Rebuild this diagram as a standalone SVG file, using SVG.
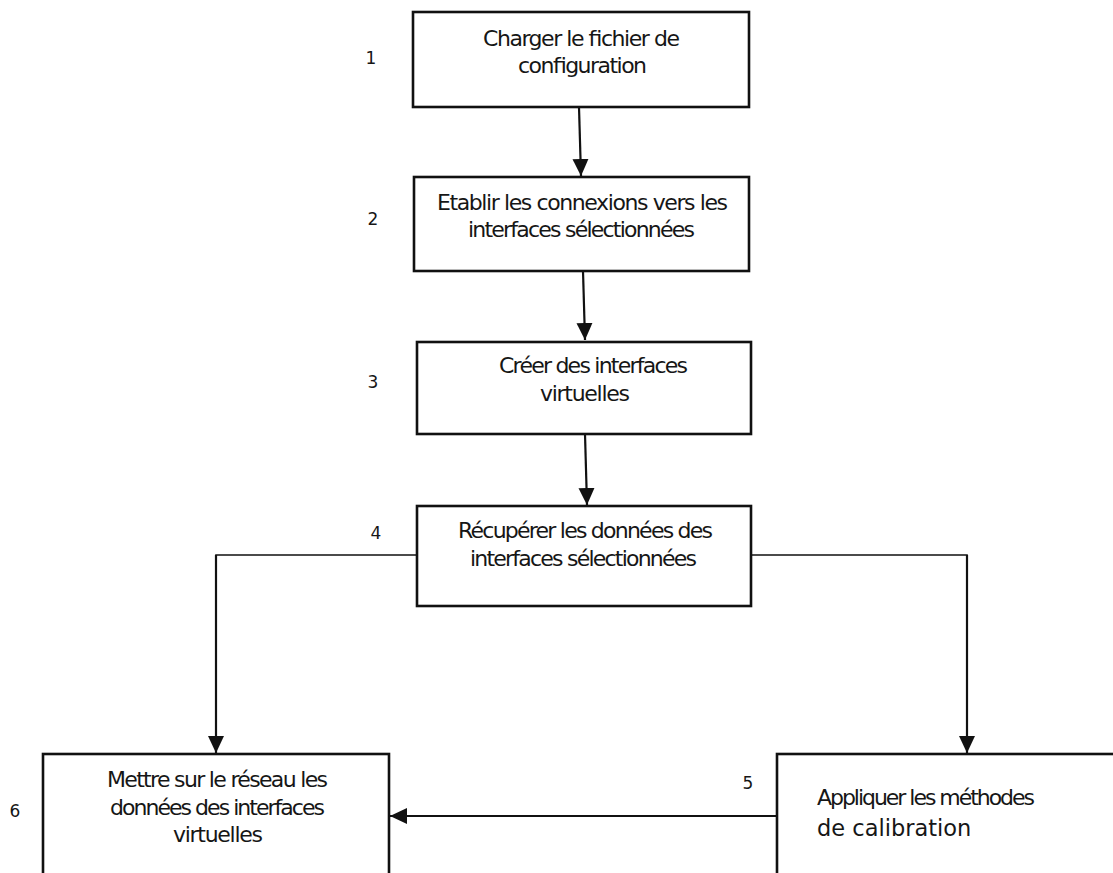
<svg xmlns="http://www.w3.org/2000/svg" width="1113" height="873" viewBox="0 0 1113 873">
<style>
.box{fill:#fff;stroke:#111;stroke-width:2.6}
.t{font-family:"DejaVu Sans","Liberation Sans",sans-serif;font-size:22px;fill:#161616;text-anchor:middle}
.tl{font-family:"DejaVu Sans","Liberation Sans",sans-serif;font-size:22px;fill:#161616;text-anchor:start}
.num{font-family:"DejaVu Sans","Liberation Sans",sans-serif;font-size:17px;fill:#161616;text-anchor:middle}
.arr{fill:none;stroke:#111;stroke-width:2.2}
.thin{fill:none;stroke:#111;stroke-width:1.6}
</style>
<defs>
<marker id="ah" markerUnits="userSpaceOnUse" markerWidth="18" markerHeight="18" refX="17" refY="8" orient="auto">
<path d="M0,0 L17,8 L0,16 z" fill="#111"/>
</marker>
</defs>
<rect width="1113" height="873" fill="#fff"/>
<g id="connectors">
<line class="arr" x1="579" y1="107" x2="581" y2="176" marker-end="url(#ah)"/>
<line class="arr" x1="583" y1="271" x2="585" y2="340" marker-end="url(#ah)"/>
<line class="arr" x1="585" y1="434" x2="587" y2="505" marker-end="url(#ah)"/>
<polyline class="thin" points="417,555 216,555 216,600"/>
<line class="arr" x1="216" y1="555" x2="216" y2="753" marker-end="url(#ah)"/>
<polyline class="thin" points="751,555 967,555 967,600"/>
<line class="arr" x1="967" y1="555" x2="967" y2="753" marker-end="url(#ah)"/>
<line class="arr" x1="777" y1="816" x2="390" y2="816" marker-end="url(#ah)"/>
</g>
<g id="node1">
<rect class="box" x="413" y="12" width="336" height="95"/>
<text class="t" x="581.5" y="46" textLength="197" lengthAdjust="spacing">Charger le fichier de</text>
<text class="t" x="582.5" y="73" textLength="129" lengthAdjust="spacing">configuration</text>
<text class="num" x="371" y="64">1</text>
</g>
<g id="node2">
<rect class="box" x="414" y="177" width="335" height="94"/>
<text class="t" x="582.5" y="210" textLength="291" lengthAdjust="spacing">Etablir les connexions vers les</text>
<text class="t" x="581.5" y="237" textLength="227" lengthAdjust="spacing">interfaces sélectionnées</text>
<text class="num" x="373" y="225">2</text>
</g>
<g id="node3">
<rect class="box" x="417" y="342" width="334" height="92"/>
<text class="t" x="593.5" y="373" textLength="189" lengthAdjust="spacing">Créer des interfaces</text>
<text class="t" x="585" y="401" textLength="90" lengthAdjust="spacing">virtuelles</text>
<text class="num" x="373" y="388">3</text>
</g>
<g id="node4">
<rect class="box" x="417" y="506" width="334" height="100"/>
<text class="t" x="585.5" y="538" textLength="255" lengthAdjust="spacing">Récupérer les données des</text>
<text class="t" x="583.5" y="566" textLength="227" lengthAdjust="spacing">interfaces sélectionnées</text>
<text class="num" x="376" y="539">4</text>
</g>
<g id="node5">
<rect class="box" x="777" y="754" width="360" height="140"/>
<text class="tl" x="817" y="805" textLength="218" lengthAdjust="spacing">Appliquer les méthodes</text>
<text class="tl" x="817" y="836" style="font-size:22.5px">de calibration</text>
<text class="num" x="748" y="789">5</text>
</g>
<g id="node6">
<rect class="box" x="43" y="754" width="346" height="140"/>
<text class="t" x="217.5" y="787" textLength="221" lengthAdjust="spacing">Mettre sur le réseau les</text>
<text class="t" x="217.5" y="815" textLength="215" lengthAdjust="spacing">données des interfaces</text>
<text class="t" x="218" y="842" textLength="90" lengthAdjust="spacing">virtuelles</text>
<text class="num" x="15" y="817">6</text>
</g>
</svg>
